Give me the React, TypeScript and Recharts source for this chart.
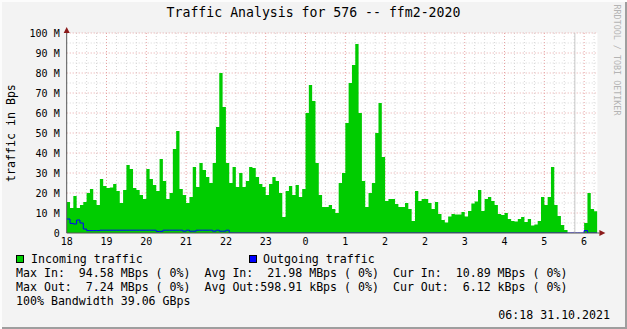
import React from 'react';
import {
  ComposedChart,
  Area,
  Line,
  XAxis,
  YAxis,
  CartesianGrid,
  ReferenceLine,
  ReferenceDot,
} from 'recharts';

// hour labels, one every 12 five-minute steps (the DST switch repeats "2")
const HOUR_LABELS = ['18', '19', '20', '21', '22', '23', '0', '1', '2', '2', '3', '4', '5', '6'];
const HOUR_TICKS = [0, 12, 24, 36, 48, 60, 72, 84, 96, 108, 120, 132, 144, 156];
const MINOR_X = [
  3, 6, 9, 15, 18, 21, 27, 30, 33, 39, 42, 45, 51, 54, 57, 63, 66, 69, 75, 78, 81, 87, 90, 93,
  99, 102, 105, 111, 114, 117, 123, 126, 129, 135, 138, 141, 147, 150, 153, 159,
];
const Y_TICKS = [0, 10, 20, 30, 40, 50, 60, 70, 80, 90, 100];
const MINOR_Y = [5, 15, 25, 35, 45, 55, 65, 75, 85, 95];

// incoming traffic, MBps, one value per 5 minutes from 18:00
const INCOMING = [
  15.5, 12.5, 18.5, 12.5, 14, 15.5, 20, 22, 16.5, 14, 27, 23.5,
  22.5, 22.7, 24.5, 21, 15, 21.5, 34, 32, 22.5, 21.5, 19, 17,
  32, 27, 24, 21, 37, 26, 17, 20, 42, 51, 22, 19,
  15, 18, 33, 23, 35, 31.5, 28, 25, 35, 53, 80, 63,
  35, 25, 33, 23, 30, 23, 26, 33, 32.5, 28, 24.5, 23,
  19, 24.5, 28, 26, 20, 8, 21, 23.5, 19, 24, 18, 22,
  60, 74, 66, 35, 19, 13, 13, 14, 12, 10, 25, 30,
  55, 75, 84, 94.5, 60, 26, 13, 20, 25, 50, 65, 38,
  16, 17, 17, 14.5, 13, 13, 15, 12, 6, 21, 16, 17,
  17, 15, 12, 15.5, 9.5, 6.5, 5.2, 8.3, 9.5, 9.3, 9.3, 10.5,
  8.2, 11, 14.8, 15.8, 21.5, 11, 17, 18, 16, 14, 9.5, 9,
  10, 7, 6, 5.8, 7, 8, 5.5, 7, 3.8, 4.3, 6, 18,
  14, 18, 33, 14, 8.5, 4, 1.5, 0, 0, 0, 0, 0,
  5, 20, 12, 10.89,
];

// outgoing traffic, MBps
const OUTGOING = [
  7, 4.8, 4.5, 6.5, 5, 2, 1.2, 1.2, 1.2, 1.2, 1.4, 1.4,
  1.4, 1.4, 1.4, 1.4, 1.4, 1.4, 1.4, 1.4, 1.4, 1.4, 1.4, 1.4,
  1.4, 1.4, 1.4, 0.8, 0.8, 1.4, 1.4, 1.4, 1.4, 1.4, 1.4, 0.9,
  1.4, 0.9, 0.9, 1.4, 1.4, 1.4, 1.4, 1.4, 0.9, 1.4, 0.9, 0.9,
  1.4, 0.05, 0.006, 0.006, 0.006, 0.006, 0.006, 0.006, 0.006, 0.006, 0.006, 0.006,
  0.006, 0.006, 0.006, 0.006, 0.006, 0.006, 0.006, 0.006, 0.006, 0.006, 0.006, 0.006,
  0.006, 0.006, 0.006, 0.006, 0.006, 0.006, 0.006, 0.006, 0.006, 0.006, 0.006, 0.006,
  0.006, 0.006, 0.006, 0.006, 0.006, 0.006, 0.006, 0.006, 0.006, 0.006, 0.006, 0.006,
  0.006, 0.006, 0.006, 0.006, 0.006, 0.006, 0.006, 0.006, 0.006, 0.006, 0.006, 0.006,
  0.006, 0.006, 0.006, 0.006, 0.006, 0.006, 0.006, 0.006, 0.006, 0.006, 0.006, 0.006,
  0.006, 0.006, 0.006, 0.006, 0.006, 0.006, 0.006, 0.006, 0.006, 0.006, 0.006, 0.006,
  0.006, 0.006, 0.006, 0.006, 0.006, 0.006, 0.006, 0.006, 0.006, 0.006, 0.006, 0.006,
  0.006, 0.006, 0.006, 0.006, 0.006, 0.006, 0.006, 0.006, 0.006, 0.006, 0.006, 0.006,
  1.2, 0.006, 0.006, 0.006,
];

const LEGEND_ROWS = [
  'Max In:  94.58 MBps ( 0%)  Avg In:  21.98 MBps ( 0%)  Cur In:  10.89 MBps ( 0%)',
  'Max Out:  7.24 MBps ( 0%)  Avg Out:598.91 kBps ( 0%)  Cur Out:  6.12 kBps ( 0%)',
  '100% Bandwidth 39.06 GBps',
];

const MONO = '"DejaVu Sans Mono", monospace';
const NOW_MARK = 153.2;

const text = (left: number, top: number, size: number, extra: React.CSSProperties = {}): React.CSSProperties => ({
  position: 'absolute',
  left,
  top,
  fontFamily: MONO,
  fontSize: size,
  lineHeight: '14px',
  whiteSpace: 'pre',
  color: '#000',
  ...extra,
});

const UpArrow = (props: any) => {
  const { cx, cy } = props;
  return <polygon points={`${cx - 3},${cy} ${cx + 3},${cy} ${cx},${cy - 6}`} fill="#8b1a1a" />;
};

const RightArrow = (props: any) => {
  const { cx, cy } = props;
  return (
    <g>
      <line x1={cx} y1={cy} x2={cx + 2} y2={cy} stroke="#555" />
      <polygon points={`${cx + 2},${cy - 3} ${cx + 2},${cy + 3} ${cx + 8},${cy}`} fill="#8b1a1a" />
    </g>
  );
};

export default function App() {
  const data = INCOMING.map((v, i) => ({ t: i, inTraffic: v, outTraffic: OUTGOING[i] }));
  const last = INCOMING.length - 1;
  data.push({ t: INCOMING.length, inTraffic: INCOMING[last], outTraffic: OUTGOING[last] });

  return (
    <div
      style={{
        position: 'absolute',
        left: 0,
        top: 0,
        width: 627,
        height: 329,
        background: '#f3f3f3',
        boxShadow: 'inset 2px 2px 0 #fcfcfc, inset -2px -2px 0 #9e9e9e',
        overflow: 'hidden',
      }}
    >
      <div style={text(0, 6, 13.2, { width: 627, textAlign: 'center' })}>
        Traffic Analysis for 576 -- ffm2-2020
      </div>
      <div
        style={text(11 - 60, 133 - 7, 11.6, {
          width: 120,
          textAlign: 'center',
          transform: 'rotate(-90deg)',
        })}
      >
        traffic in Bps
      </div>
      <div
        style={text(617 - 60, 60 - 7, 8.4, {
          width: 120,
          textAlign: 'center',
          color: '#b4b4b4',
          transform: 'rotate(90deg)',
        })}
      >
        RRDTOOL / TOBI OETIKER
      </div>

      <div style={{ position: 'absolute', left: 0, top: 0 }}>
        <ComposedChart
          width={627}
          height={329}
          data={data}
          margin={{ top: 33, right: 29.6, bottom: 76, left: 0 }}
        >
          <CartesianGrid
            fill="#ffffff"
            stroke="#d6d6d6"
            strokeDasharray="1 2"
            horizontalValues={MINOR_Y}
            verticalValues={MINOR_X}
          />
          <CartesianGrid
            stroke="#e6a3a3"
            strokeDasharray="1 2"
            horizontalValues={Y_TICKS.slice(1)}
            verticalValues={HOUR_TICKS.slice(1)}
          />
          <XAxis
            dataKey="t"
            type="number"
            domain={[0, 160]}
            ticks={HOUR_TICKS}
            interval={0}
            tickFormatter={(v: number) => HOUR_LABELS[HOUR_TICKS.indexOf(v)]}
            height={20}
            tickSize={0}
            tickMargin={5}
            axisLine={{ stroke: '#555' }}
            tick={{ fontFamily: MONO, fontSize: 10, fill: '#000' }}
            allowDataOverflow
          />
          <YAxis
            type="number"
            domain={[0, 100]}
            ticks={Y_TICKS}
            interval={0}
            tickFormatter={(v: number) => (v === 0 ? '0' : `${v} M`)}
            width={66.7}
            tickSize={0}
            tickMargin={7}
            axisLine={{ stroke: '#555' }}
            tick={{ fontFamily: MONO, fontSize: 10, fill: '#000' }}
            allowDataOverflow
          />
          <Area
            dataKey="inTraffic"
            type="stepAfter"
            fill="#00cc00"
            fillOpacity={1}
            stroke="none"
            isAnimationActive={false}
          />
          <Line
            dataKey="outTraffic"
            type="stepAfter"
            stroke="#0000ff"
            strokeWidth={1}
            dot={false}
            activeDot={false}
            isAnimationActive={false}
          />
          <ReferenceLine x={NOW_MARK} stroke="#c8c8c8" />
          <ReferenceDot x={0} y={100} r={0} ifOverflow="visible" shape={UpArrow} />
          <ReferenceDot x={160} y={0} r={0} ifOverflow="visible" shape={RightArrow} />
        </ComposedChart>
      </div>

      <div style={{ position: 'absolute', left: 16, top: 255, width: 6, height: 6, background: '#00cc00', border: '1px solid #000' }} />
      <div style={text(31, 252, 11.6)}>Incoming traffic</div>
      <div style={{ position: 'absolute', left: 249, top: 255, width: 6, height: 6, background: '#0000ff', border: '1px solid #000' }} />
      <div style={text(263, 252, 11.6)}>Outgoing traffic</div>
      {LEGEND_ROWS.map((row, i) => (
        <div key={i} style={text(16, 266 + i * 14, 11.6)}>
          {row}
        </div>
      ))}
      <div style={text(0, 308, 11.6, { width: 610, textAlign: 'right' })}>06:18 31.10.2021</div>
    </div>
  );
}
